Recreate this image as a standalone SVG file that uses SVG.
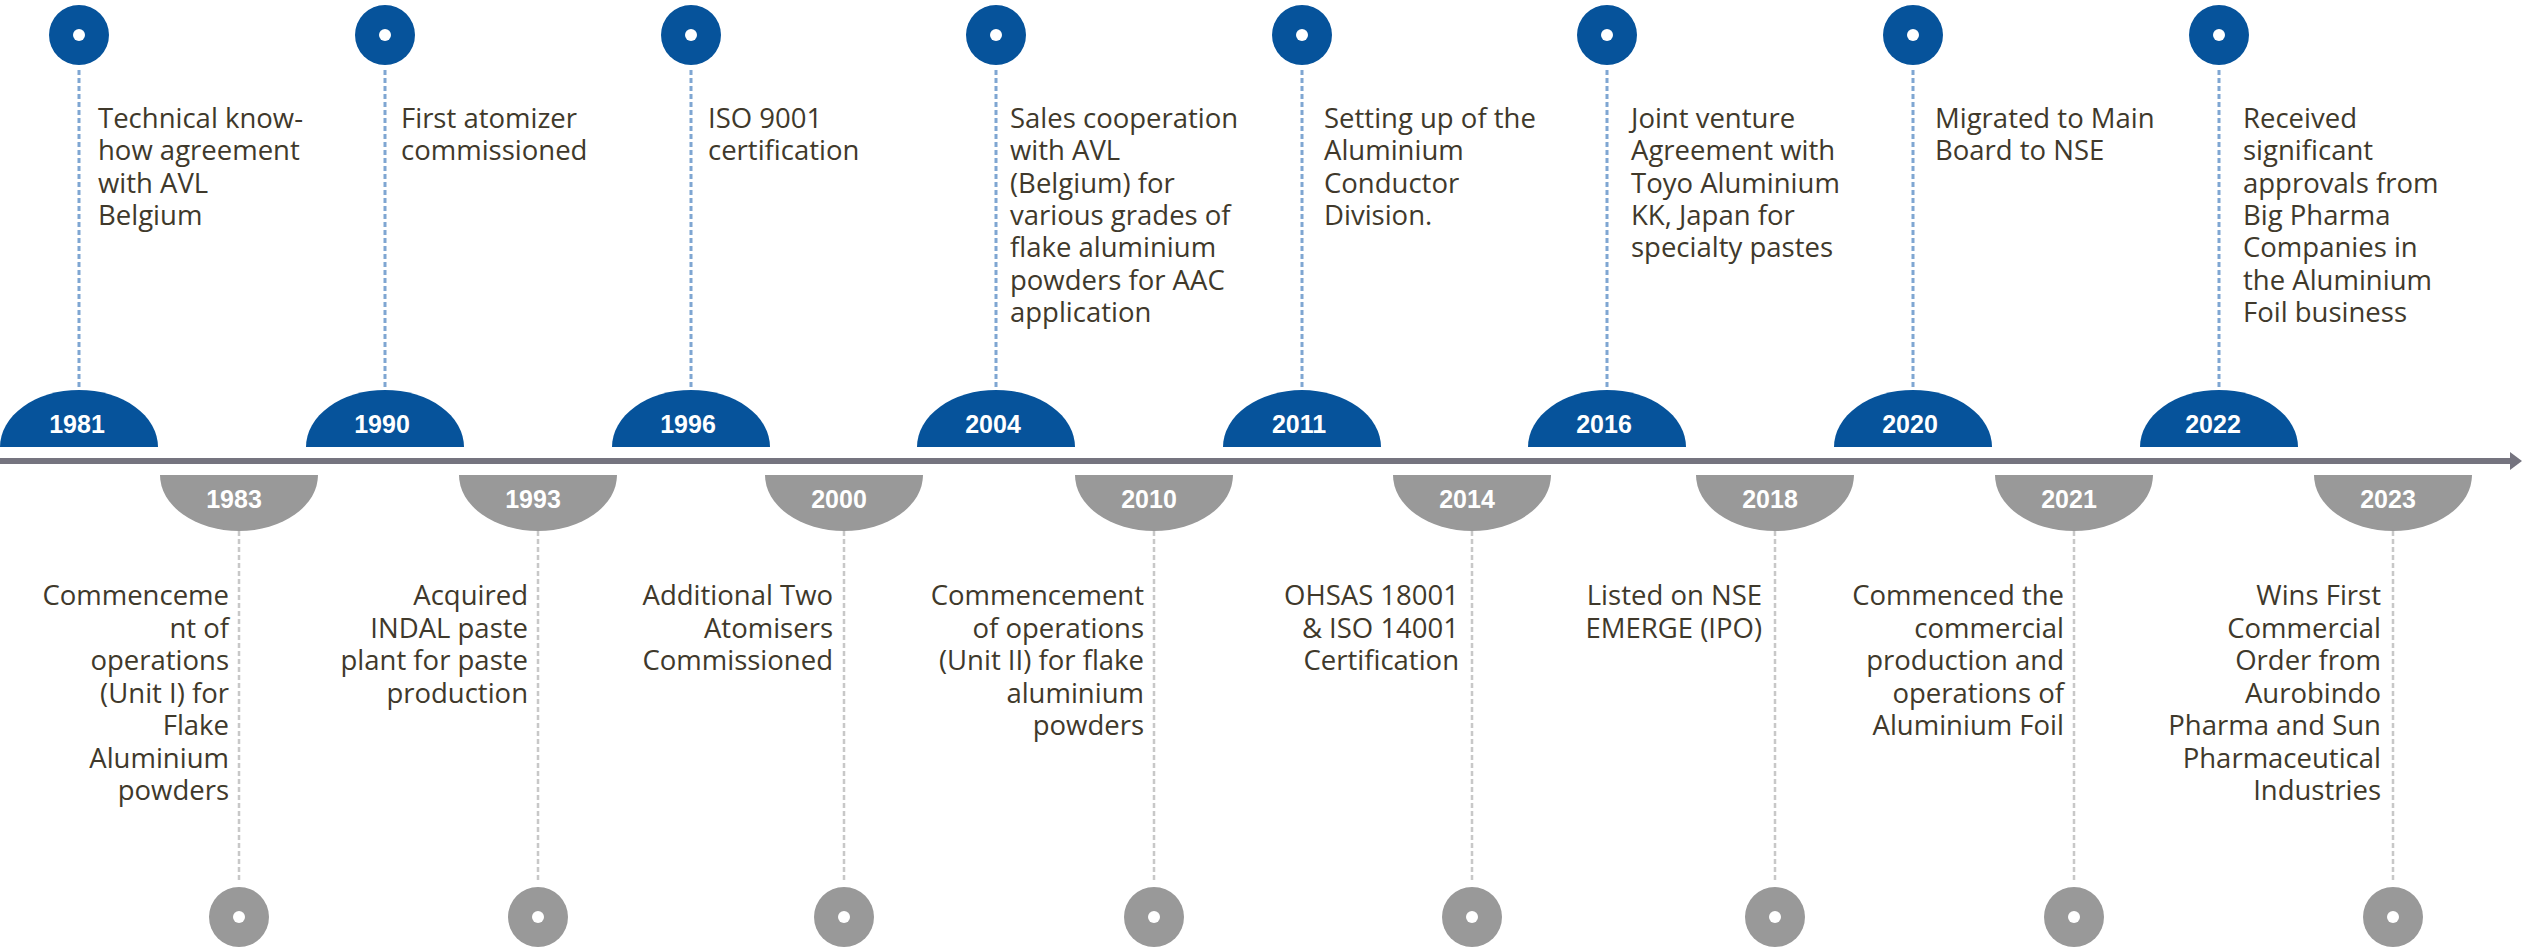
<svg xmlns="http://www.w3.org/2000/svg" width="2522" height="951" viewBox="0 0 2522 951">
<style>
.bg{fill:#ffffff}
.bdisc{fill:#06539b}
.gdisc{fill:#999999}
.dot{fill:#ffffff}
.yr{font-family:"Liberation Sans",Arial,sans-serif;font-weight:bold;font-size:25px;fill:#ffffff;text-anchor:middle}
.tx{font-family:"Open Sans","Noto Sans",sans-serif;font-size:27.5px;fill:#40392b}
.txr{text-anchor:end}
.bdash{stroke:#7fa6d2;stroke-width:3;stroke-dasharray:5 3;fill:none}
.gdash{stroke:#c8c8c8;stroke-width:2.5;stroke-dasharray:5 3;fill:none}
.axis{stroke:#75747f;stroke-width:6;fill:none}
</style>
<rect class="bg" x="0" y="0" width="2522" height="951"/>
<g id="connectors">
<line class="axis" x1="0" y1="461" x2="2512" y2="461"/>
<polygon points="2510,452 2522,461 2510,470" fill="#75747f"/>
<line class="bdash" x1="79" y1="70" x2="79" y2="390"/>
<line class="bdash" x1="385" y1="70" x2="385" y2="390"/>
<line class="bdash" x1="691" y1="70" x2="691" y2="390"/>
<line class="bdash" x1="996" y1="70" x2="996" y2="390"/>
<line class="bdash" x1="1302" y1="70" x2="1302" y2="390"/>
<line class="bdash" x1="1607" y1="70" x2="1607" y2="390"/>
<line class="bdash" x1="1913" y1="70" x2="1913" y2="390"/>
<line class="bdash" x1="2219" y1="70" x2="2219" y2="390"/>
<line class="gdash" x1="239" y1="531" x2="239" y2="880"/>
<line class="gdash" x1="538" y1="531" x2="538" y2="880"/>
<line class="gdash" x1="844" y1="531" x2="844" y2="880"/>
<line class="gdash" x1="1154" y1="531" x2="1154" y2="880"/>
<line class="gdash" x1="1472" y1="531" x2="1472" y2="880"/>
<line class="gdash" x1="1775" y1="531" x2="1775" y2="880"/>
<line class="gdash" x1="2074" y1="531" x2="2074" y2="880"/>
<line class="gdash" x1="2393" y1="531" x2="2393" y2="880"/>
</g>

<g id="n1981">
<circle class="bdisc" cx="79" cy="35" r="30"/><circle class="dot" cx="79" cy="35" r="6"/>
<path class="bdisc" d="M0 447 A79 57 0 0 1 158 447 Z"/>
<text class="yr" x="77" y="433">1981</text>
<text class="tx" x="98" y="128">Technical know-<tspan x="98" dy="32.3">how agreement</tspan><tspan x="98" dy="32.3">with AVL</tspan><tspan x="98" dy="32.3">Belgium</tspan></text>
</g>
<g id="n1990">
<circle class="bdisc" cx="385" cy="35" r="30"/><circle class="dot" cx="385" cy="35" r="6"/>
<path class="bdisc" d="M306 447 A79 57 0 0 1 464 447 Z"/>
<text class="yr" x="382" y="433">1990</text>
<text class="tx" x="401" y="128">First atomizer<tspan x="401" dy="32.3">commissioned</tspan></text>
</g>
<g id="n1996">
<circle class="bdisc" cx="691" cy="35" r="30"/><circle class="dot" cx="691" cy="35" r="6"/>
<path class="bdisc" d="M612 447 A79 57 0 0 1 770 447 Z"/>
<text class="yr" x="688" y="433">1996</text>
<text class="tx" x="708" y="128">ISO 9001<tspan x="708" dy="32.3">certification</tspan></text>
</g>
<g id="n2004">
<circle class="bdisc" cx="996" cy="35" r="30"/><circle class="dot" cx="996" cy="35" r="6"/>
<path class="bdisc" d="M917 447 A79 57 0 0 1 1075 447 Z"/>
<text class="yr" x="993" y="433">2004</text>
<text class="tx" x="1010" y="128">Sales cooperation<tspan x="1010" dy="32.3">with AVL</tspan><tspan x="1010" dy="32.3">(Belgium) for</tspan><tspan x="1010" dy="32.3">various grades of</tspan><tspan x="1010" dy="32.3">flake aluminium</tspan><tspan x="1010" dy="32.3">powders for AAC</tspan><tspan x="1010" dy="32.3">application</tspan></text>
</g>
<g id="n2011">
<circle class="bdisc" cx="1302" cy="35" r="30"/><circle class="dot" cx="1302" cy="35" r="6"/>
<path class="bdisc" d="M1223 447 A79 57 0 0 1 1381 447 Z"/>
<text class="yr" x="1299" y="433">2011</text>
<text class="tx" x="1324" y="128">Setting up of the<tspan x="1324" dy="32.3">Aluminium</tspan><tspan x="1324" dy="32.3">Conductor</tspan><tspan x="1324" dy="32.3">Division.</tspan></text>
</g>
<g id="n2016">
<circle class="bdisc" cx="1607" cy="35" r="30"/><circle class="dot" cx="1607" cy="35" r="6"/>
<path class="bdisc" d="M1528 447 A79 57 0 0 1 1686 447 Z"/>
<text class="yr" x="1604" y="433">2016</text>
<text class="tx" x="1631" y="128">Joint venture<tspan x="1631" dy="32.3">Agreement with</tspan><tspan x="1631" dy="32.3">Toyo Aluminium</tspan><tspan x="1631" dy="32.3">KK, Japan for</tspan><tspan x="1631" dy="32.3">specialty pastes</tspan></text>
</g>
<g id="n2020">
<circle class="bdisc" cx="1913" cy="35" r="30"/><circle class="dot" cx="1913" cy="35" r="6"/>
<path class="bdisc" d="M1834 447 A79 57 0 0 1 1992 447 Z"/>
<text class="yr" x="1910" y="433">2020</text>
<text class="tx" x="1935" y="128">Migrated to Main<tspan x="1935" dy="32.3">Board to NSE</tspan></text>
</g>
<g id="n2022">
<circle class="bdisc" cx="2219" cy="35" r="30"/><circle class="dot" cx="2219" cy="35" r="6"/>
<path class="bdisc" d="M2140 447 A79 57 0 0 1 2298 447 Z"/>
<text class="yr" x="2213" y="433">2022</text>
<text class="tx" x="2243" y="128">Received<tspan x="2243" dy="32.3">significant</tspan><tspan x="2243" dy="32.3">approvals from</tspan><tspan x="2243" dy="32.3">Big Pharma</tspan><tspan x="2243" dy="32.3">Companies in</tspan><tspan x="2243" dy="32.3">the Aluminium</tspan><tspan x="2243" dy="32.3">Foil business</tspan></text>
</g>

<g id="n1983">
<path class="gdisc" d="M160 475 A79 56 0 0 0 318 475 Z"/>
<text class="yr" x="234" y="508">1983</text>
<circle class="gdisc" cx="239" cy="917" r="30"/><circle class="dot" cx="239" cy="917" r="6"/>
<text class="tx txr" x="229" y="605">Commenceme<tspan x="229" dy="32.5">nt of</tspan><tspan x="229" dy="32.5">operations</tspan><tspan x="229" dy="32.5">(Unit I) for</tspan><tspan x="229" dy="32.5">Flake</tspan><tspan x="229" dy="32.5">Aluminium</tspan><tspan x="229" dy="32.5">powders</tspan></text>
</g>
<g id="n1993">
<path class="gdisc" d="M459 475 A79 56 0 0 0 617 475 Z"/>
<text class="yr" x="533" y="508">1993</text>
<circle class="gdisc" cx="538" cy="917" r="30"/><circle class="dot" cx="538" cy="917" r="6"/>
<text class="tx txr" x="528" y="605">Acquired<tspan x="528" dy="32.5">INDAL paste</tspan><tspan x="528" dy="32.5">plant for paste</tspan><tspan x="528" dy="32.5">production</tspan></text>
</g>
<g id="n2000">
<path class="gdisc" d="M765 475 A79 56 0 0 0 923 475 Z"/>
<text class="yr" x="839" y="508">2000</text>
<circle class="gdisc" cx="844" cy="917" r="30"/><circle class="dot" cx="844" cy="917" r="6"/>
<text class="tx txr" x="833" y="605">Additional Two<tspan x="833" dy="32.5">Atomisers</tspan><tspan x="833" dy="32.5">Commissioned</tspan></text>
</g>
<g id="n2010">
<path class="gdisc" d="M1075 475 A79 56 0 0 0 1233 475 Z"/>
<text class="yr" x="1149" y="508">2010</text>
<circle class="gdisc" cx="1154" cy="917" r="30"/><circle class="dot" cx="1154" cy="917" r="6"/>
<text class="tx txr" x="1144" y="605">Commencement<tspan x="1144" dy="32.5">of operations</tspan><tspan x="1144" dy="32.5">(Unit II) for flake</tspan><tspan x="1144" dy="32.5">aluminium</tspan><tspan x="1144" dy="32.5">powders</tspan></text>
</g>
<g id="n2014">
<path class="gdisc" d="M1393 475 A79 56 0 0 0 1551 475 Z"/>
<text class="yr" x="1467" y="508">2014</text>
<circle class="gdisc" cx="1472" cy="917" r="30"/><circle class="dot" cx="1472" cy="917" r="6"/>
<text class="tx txr" x="1459" y="605">OHSAS 18001<tspan x="1459" dy="32.5">&amp; ISO 14001</tspan><tspan x="1459" dy="32.5">Certification</tspan></text>
</g>
<g id="n2018">
<path class="gdisc" d="M1696 475 A79 56 0 0 0 1854 475 Z"/>
<text class="yr" x="1770" y="508">2018</text>
<circle class="gdisc" cx="1775" cy="917" r="30"/><circle class="dot" cx="1775" cy="917" r="6"/>
<text class="tx txr" x="1762" y="605">Listed on NSE<tspan x="1762" dy="32.5">EMERGE (IPO)</tspan></text>
</g>
<g id="n2021">
<path class="gdisc" d="M1995 475 A79 56 0 0 0 2153 475 Z"/>
<text class="yr" x="2069" y="508">2021</text>
<circle class="gdisc" cx="2074" cy="917" r="30"/><circle class="dot" cx="2074" cy="917" r="6"/>
<text class="tx txr" x="2064" y="605">Commenced the<tspan x="2064" dy="32.5">commercial</tspan><tspan x="2064" dy="32.5">production and</tspan><tspan x="2064" dy="32.5">operations of</tspan><tspan x="2064" dy="32.5">Aluminium Foil</tspan></text>
</g>
<g id="n2023">
<path class="gdisc" d="M2314 475 A79 56 0 0 0 2472 475 Z"/>
<text class="yr" x="2388" y="508">2023</text>
<circle class="gdisc" cx="2393" cy="917" r="30"/><circle class="dot" cx="2393" cy="917" r="6"/>
<text class="tx txr" x="2381" y="605">Wins First<tspan x="2381" dy="32.5">Commercial</tspan><tspan x="2381" dy="32.5">Order from</tspan><tspan x="2381" dy="32.5">Aurobindo</tspan><tspan x="2381" dy="32.5">Pharma and Sun</tspan><tspan x="2381" dy="32.5">Pharmaceutical</tspan><tspan x="2381" dy="32.5">Industries</tspan></text>
</g>
</svg>
